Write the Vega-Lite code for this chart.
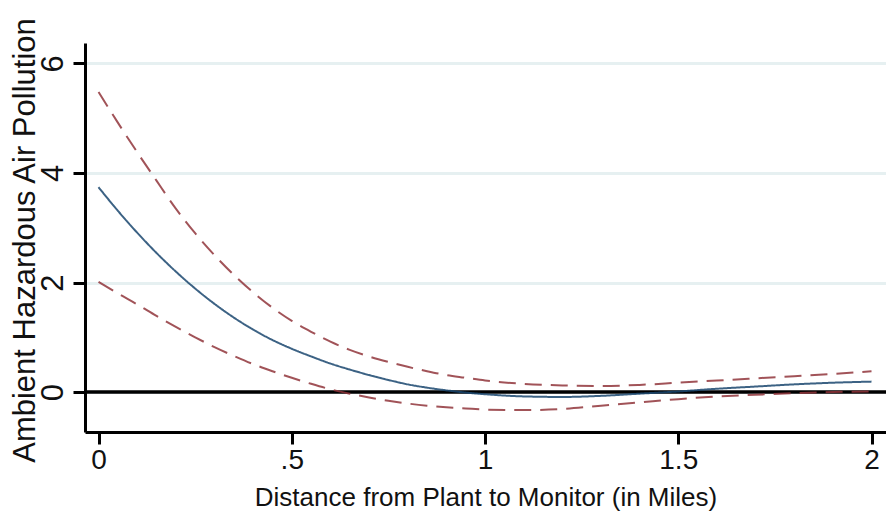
{
  "$schema": "https://vega.github.io/schema/vega-lite/v6.json",
  "autosize": {"type": "none"},
  "width": 801,
  "height": 389,
  "padding": {"left": 85, "top": 43, "right": 0, "bottom": 81},
  "background": "white",
  "config": {
    "view": {"stroke": null},
    "font": "Liberation Sans",
    "axis": {
      "domainColor": "black",
      "domainWidth": 3,
      "tickColor": "black",
      "tickWidth": 3,
      "tickSize": 12,
      "labelColor": "#111111",
      "titleFontWeight": "normal",
      "titleColor": "#111111",
      "labelFont": "Liberation Sans",
      "titleFont": "Liberation Sans"
    }
  },
  "datasets": {
    "fit": [
      {"dist": 0.0, "series": "estimate", "hap": 3.74},
      {"dist": 0.05, "series": "estimate", "hap": 3.31},
      {"dist": 0.1, "series": "estimate", "hap": 2.91},
      {"dist": 0.15, "series": "estimate", "hap": 2.54},
      {"dist": 0.2, "series": "estimate", "hap": 2.2},
      {"dist": 0.25, "series": "estimate", "hap": 1.89},
      {"dist": 0.3, "series": "estimate", "hap": 1.61},
      {"dist": 0.35, "series": "estimate", "hap": 1.36},
      {"dist": 0.4, "series": "estimate", "hap": 1.14},
      {"dist": 0.45, "series": "estimate", "hap": 0.95},
      {"dist": 0.5, "series": "estimate", "hap": 0.79},
      {"dist": 0.55, "series": "estimate", "hap": 0.65},
      {"dist": 0.6, "series": "estimate", "hap": 0.52},
      {"dist": 0.65, "series": "estimate", "hap": 0.41},
      {"dist": 0.7, "series": "estimate", "hap": 0.31},
      {"dist": 0.75, "series": "estimate", "hap": 0.22},
      {"dist": 0.8, "series": "estimate", "hap": 0.14},
      {"dist": 0.85, "series": "estimate", "hap": 0.08},
      {"dist": 0.9, "series": "estimate", "hap": 0.03},
      {"dist": 0.95, "series": "estimate", "hap": -0.01},
      {"dist": 1.0, "series": "estimate", "hap": -0.04},
      {"dist": 1.1, "series": "estimate", "hap": -0.08},
      {"dist": 1.2, "series": "estimate", "hap": -0.09},
      {"dist": 1.3, "series": "estimate", "hap": -0.07},
      {"dist": 1.4, "series": "estimate", "hap": -0.03},
      {"dist": 1.5, "series": "estimate", "hap": 0.01},
      {"dist": 1.6, "series": "estimate", "hap": 0.06},
      {"dist": 1.7, "series": "estimate", "hap": 0.1},
      {"dist": 1.8, "series": "estimate", "hap": 0.14},
      {"dist": 1.9, "series": "estimate", "hap": 0.17},
      {"dist": 2.0, "series": "estimate", "hap": 0.19},

      {"dist": 0.0, "series": "upper", "hap": 5.48},
      {"dist": 0.05, "series": "upper", "hap": 4.92},
      {"dist": 0.1, "series": "upper", "hap": 4.38},
      {"dist": 0.15, "series": "upper", "hap": 3.86},
      {"dist": 0.2, "series": "upper", "hap": 3.35},
      {"dist": 0.25, "series": "upper", "hap": 2.9},
      {"dist": 0.3, "series": "upper", "hap": 2.5},
      {"dist": 0.35, "series": "upper", "hap": 2.14},
      {"dist": 0.4, "series": "upper", "hap": 1.82},
      {"dist": 0.45, "series": "upper", "hap": 1.54},
      {"dist": 0.5, "series": "upper", "hap": 1.3},
      {"dist": 0.55, "series": "upper", "hap": 1.1},
      {"dist": 0.6, "series": "upper", "hap": 0.92},
      {"dist": 0.65, "series": "upper", "hap": 0.77},
      {"dist": 0.7, "series": "upper", "hap": 0.65},
      {"dist": 0.75, "series": "upper", "hap": 0.55},
      {"dist": 0.8, "series": "upper", "hap": 0.46},
      {"dist": 0.85, "series": "upper", "hap": 0.38},
      {"dist": 0.9, "series": "upper", "hap": 0.31},
      {"dist": 0.95, "series": "upper", "hap": 0.26},
      {"dist": 1.0, "series": "upper", "hap": 0.21},
      {"dist": 1.1, "series": "upper", "hap": 0.15},
      {"dist": 1.2, "series": "upper", "hap": 0.12},
      {"dist": 1.3, "series": "upper", "hap": 0.11},
      {"dist": 1.4, "series": "upper", "hap": 0.13},
      {"dist": 1.5, "series": "upper", "hap": 0.17},
      {"dist": 1.6, "series": "upper", "hap": 0.21},
      {"dist": 1.7, "series": "upper", "hap": 0.25},
      {"dist": 1.8, "series": "upper", "hap": 0.29},
      {"dist": 1.9, "series": "upper", "hap": 0.33},
      {"dist": 2.0, "series": "upper", "hap": 0.38},

      {"dist": 0.0, "series": "lower", "hap": 2.01},
      {"dist": 0.05, "series": "lower", "hap": 1.8},
      {"dist": 0.1, "series": "lower", "hap": 1.6},
      {"dist": 0.15, "series": "lower", "hap": 1.39},
      {"dist": 0.2, "series": "lower", "hap": 1.19},
      {"dist": 0.25, "series": "lower", "hap": 1.0},
      {"dist": 0.3, "series": "lower", "hap": 0.82},
      {"dist": 0.35, "series": "lower", "hap": 0.66},
      {"dist": 0.4, "series": "lower", "hap": 0.51},
      {"dist": 0.45, "series": "lower", "hap": 0.38},
      {"dist": 0.5, "series": "lower", "hap": 0.26},
      {"dist": 0.55, "series": "lower", "hap": 0.15},
      {"dist": 0.6, "series": "lower", "hap": 0.05},
      {"dist": 0.65, "series": "lower", "hap": -0.03},
      {"dist": 0.7, "series": "lower", "hap": -0.1},
      {"dist": 0.75, "series": "lower", "hap": -0.16},
      {"dist": 0.8, "series": "lower", "hap": -0.21},
      {"dist": 0.85, "series": "lower", "hap": -0.25},
      {"dist": 0.9, "series": "lower", "hap": -0.28},
      {"dist": 0.95, "series": "lower", "hap": -0.3},
      {"dist": 1.0, "series": "lower", "hap": -0.32},
      {"dist": 1.1, "series": "lower", "hap": -0.33},
      {"dist": 1.2, "series": "lower", "hap": -0.31},
      {"dist": 1.3, "series": "lower", "hap": -0.25},
      {"dist": 1.4, "series": "lower", "hap": -0.19},
      {"dist": 1.5, "series": "lower", "hap": -0.13},
      {"dist": 1.6, "series": "lower", "hap": -0.08},
      {"dist": 1.7, "series": "lower", "hap": -0.05},
      {"dist": 1.8, "series": "lower", "hap": -0.02},
      {"dist": 1.9, "series": "lower", "hap": 0.0},
      {"dist": 2.0, "series": "lower", "hap": 0.01}
    ],
    "zero": [{"level": 0}]
  },
  "layer": [
    {
      "data": {"name": "zero"},
      "mark": {"type": "rule", "color": "black", "strokeWidth": 3.5},
      "encoding": {
        "y": {
          "field": "level",
          "type": "quantitative",
          "scale": {"domain": [-0.73, 6.374], "nice": false, "zero": false},
          "axis": {
            "title": "Ambient Hazardous Air Pollution",
            "values": [0, 2, 4, 6],
            "labelAngle": -90,
            "labelFontSize": 31,
            "labelPadding": 4,
            "titleFontSize": 31,
            "titleAngle": -90,
            "titleX": -60,
            "titleY": 197,
            "titleAlign": "center",
            "titleBaseline": "middle",
            "grid": true,
            "gridColor": "#e6f0f1",
            "gridWidth": 3
          }
        }
      }
    },
    {
      "data": {"name": "fit"},
      "mark": {"type": "line", "strokeWidth": 2, "interpolate": "monotone", "opacity": 0.85},
      "encoding": {
        "x": {
          "field": "dist",
          "type": "quantitative",
          "scale": {"domain": [-0.035, 2.0375], "nice": false, "zero": false},
          "axis": {
            "title": "Distance from Plant to Monitor (in Miles)",
            "values": [0, 0.5, 1, 1.5, 2],
            "labelExpr": "datum.value == 0.5 ? '.5' : format(datum.value, '~g')",
            "labelFontSize": 28,
            "labelPadding": 2,
            "titleFontSize": 26,
            "titleY": 73,
            "titleBaseline": "alphabetic",
            "grid": false
          }
        },
        "y": {"field": "hap", "type": "quantitative"},
        "color": {
          "field": "series",
          "type": "nominal",
          "scale": {"domain": ["estimate", "upper", "lower"], "range": ["#1a476f", "#90353b", "#90353b"]},
          "legend": null
        },
        "strokeDash": {
          "field": "series",
          "type": "nominal",
          "scale": {"domain": ["estimate", "upper", "lower"], "range": [[1, 0], [17, 9], [17, 9]]},
          "legend": null
        }
      }
    }
  ]
}
